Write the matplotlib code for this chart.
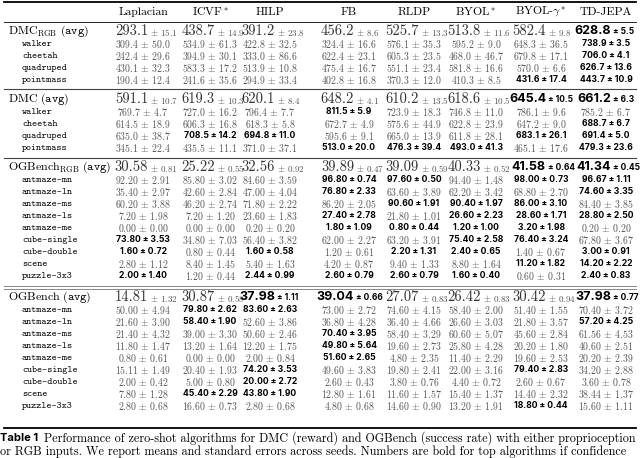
import matplotlib
matplotlib.use("Agg")
import matplotlib.pyplot as plt

plt.rcParams['mathtext.fontset'] = 'cm'
plt.rcParams['axes.unicode_minus'] = False

methods = ["Laplacian", "ICVF*", "HILP", "FB", "RLDP", "BYOL*", "BYOL-γ*", "TD-JEPA"]
method_tex = ["Laplacian", r"ICVF$^*$", "HILP", "FB", "RLDP", r"BYOL$^*$", r"BYOL-$\gamma^*$", "TD-JEPA"]

dmc_tasks = ["walker", "cheetah", "quadruped", "pointmass"]
og_tasks = ["antmaze-mn", "antmaze-ln", "antmaze-ms", "antmaze-ls", "antmaze-me",
            "cube-single", "cube-double", "scene", "puzzle-3x3"]

# ---- DMC RGB ----
dmcrgb_avg_mean = [293.1, 438.7, 391.2, 456.2, 525.7, 513.8, 582.4, 628.8]
dmcrgb_avg_err = [15.1, 14.9, 23.8, 8.6, 13.3, 11.6, 9.8, 5.5]
dmcrgb_avg_bold = [0, 0, 0, 0, 0, 0, 0, 1]
dmcrgb_mean = [[309.4, 534.9, 422.8, 324.4, 576.1, 595.2, 648.3, 738.9],
               [242.4, 394.9, 333.0, 622.4, 605.3, 468.0, 679.8, 706.0],
               [430.1, 583.3, 513.9, 475.4, 551.1, 581.8, 570.0, 626.7],
               [190.4, 241.6, 294.9, 402.8, 370.3, 410.3, 431.6, 443.7]]
dmcrgb_err = [[50.0, 61.3, 32.5, 16.6, 35.3, 9.0, 36.5, 3.5],
              [29.6, 30.1, 86.6, 23.1, 23.5, 46.7, 17.1, 4.1],
              [32.3, 17.2, 10.8, 16.7, 23.4, 16.6, 6.6, 13.6],
              [12.4, 35.6, 33.4, 16.8, 12.0, 8.5, 17.4, 10.9]]
dmcrgb_bold = [[0, 0, 0, 0, 0, 0, 0, 1],
               [0, 0, 0, 0, 0, 0, 0, 1],
               [0, 0, 0, 0, 0, 0, 0, 1],
               [0, 0, 0, 0, 0, 0, 1, 1]]

# ---- DMC ----
dmc_avg_mean = [591.1, 619.3, 620.1, 648.2, 610.2, 618.6, 645.4, 661.2]
dmc_avg_err = [10.7, 10.3, 8.4, 4.1, 13.5, 10.5, 10.5, 6.3]
dmc_avg_bold = [0, 0, 0, 0, 0, 0, 1, 1]
dmc_mean = [[769.7, 727.0, 796.4, 811.5, 723.9, 746.8, 786.1, 785.2],
            [614.5, 606.3, 618.3, 672.7, 575.6, 622.8, 647.2, 688.7],
            [635.0, 708.5, 694.8, 595.6, 665.0, 611.8, 683.1, 691.4],
            [345.1, 435.5, 371.0, 513.0, 476.3, 493.0, 465.1, 479.3]]
dmc_err = [[4.7, 16.2, 7.7, 5.9, 18.3, 11.0, 9.6, 6.7],
           [18.9, 16.8, 5.8, 4.9, 44.9, 23.9, 9.0, 6.7],
           [38.7, 14.2, 11.0, 9.1, 13.9, 28.1, 26.1, 5.0],
           [22.4, 11.1, 37.1, 20.0, 39.4, 41.3, 17.6, 23.6]]
dmc_bold = [[0, 0, 0, 1, 0, 0, 0, 0],
            [0, 0, 0, 0, 0, 0, 0, 1],
            [0, 1, 1, 0, 0, 0, 1, 1],
            [0, 0, 0, 1, 1, 1, 0, 1]]

# ---- OGBench RGB ----
ogrgb_avg_mean = [30.58, 25.22, 32.56, 39.89, 39.09, 40.33, 41.58, 41.34]
ogrgb_avg_err = [0.81, 0.55, 0.92, 0.47, 0.59, 0.52, 0.64, 0.45]
ogrgb_avg_bold = [0, 0, 0, 0, 0, 0, 1, 1]
ogrgb_mean = [[92.20, 85.80, 84.60, 96.80, 97.60, 94.40, 98.00, 96.67],
              [35.40, 42.60, 47.00, 76.80, 63.60, 62.20, 68.80, 74.60],
              [60.20, 46.20, 71.80, 86.20, 90.60, 90.40, 86.00, 84.40],
              [7.20, 7.20, 23.60, 27.40, 21.80, 26.60, 28.60, 28.80],
              [0.00, 0.00, 0.20, 1.80, 0.80, 1.20, 3.20, 0.20],
              [73.80, 34.80, 56.40, 62.00, 63.20, 75.40, 76.40, 67.80],
              [1.60, 0.80, 1.60, 1.20, 2.20, 2.40, 1.40, 3.00],
              [2.80, 8.40, 5.40, 4.20, 9.40, 8.80, 11.20, 14.20],
              [2.00, 1.20, 2.44, 2.60, 2.60, 1.60, 0.60, 2.40]]
ogrgb_err = [[2.91, 3.02, 3.59, 0.74, 0.50, 1.48, 0.73, 1.11],
             [2.97, 2.84, 4.04, 2.33, 3.89, 3.42, 2.70, 3.35],
             [3.88, 2.74, 2.22, 2.05, 1.91, 1.97, 3.10, 3.85],
             [1.98, 1.20, 1.83, 2.78, 1.01, 2.23, 1.71, 2.50],
             [0.00, 0.00, 0.20, 1.09, 0.44, 1.00, 1.98, 0.20],
             [3.53, 7.03, 3.82, 2.27, 3.91, 2.58, 3.24, 3.67],
             [0.72, 0.44, 0.58, 0.61, 1.31, 0.65, 0.67, 0.91],
             [1.12, 1.45, 1.63, 0.87, 1.33, 1.64, 1.82, 2.22],
             [1.40, 0.44, 0.99, 0.79, 0.79, 0.40, 0.31, 0.83]]
ogrgb_bold = [[0, 0, 0, 1, 1, 0, 1, 1],
              [0, 0, 0, 1, 0, 0, 0, 1],
              [0, 0, 0, 0, 1, 1, 1, 0],
              [0, 0, 0, 1, 0, 1, 1, 1],
              [0, 0, 0, 1, 1, 1, 1, 0],
              [1, 0, 0, 0, 0, 1, 1, 0],
              [1, 0, 1, 0, 1, 1, 0, 1],
              [0, 0, 0, 0, 0, 0, 1, 1],
              [1, 0, 1, 1, 1, 1, 0, 1]]

# ---- OGBench ----
og_avg_mean = [14.81, 30.87, 37.98, 39.04, 27.07, 26.42, 30.42, 37.98]
og_avg_err = [1.32, 0.58, 1.11, 0.66, 0.83, 0.83, 0.94, 0.77]
og_avg_bold = [0, 0, 1, 1, 0, 0, 0, 1]
og_mean = [[50.00, 79.80, 83.60, 73.00, 74.60, 58.40, 51.40, 70.40],
           [21.60, 58.40, 52.60, 36.80, 36.40, 26.60, 21.80, 57.20],
           [21.40, 39.00, 50.60, 70.40, 58.40, 60.60, 45.60, 61.56],
           [11.80, 13.20, 12.20, 49.80, 19.60, 25.80, 20.20, 40.60],
           [0.80, 0.00, 2.00, 51.60, 4.80, 11.40, 19.60, 20.20],
           [15.11, 20.40, 74.20, 49.60, 19.80, 22.00, 79.40, 34.20],
           [2.00, 5.00, 20.00, 2.60, 3.80, 4.40, 2.60, 3.60],
           [7.80, 45.40, 43.80, 12.80, 11.60, 15.40, 14.40, 38.44],
           [2.80, 16.60, 2.80, 4.80, 14.60, 13.20, 18.80, 15.60]]
og_err = [[4.94, 2.62, 2.63, 2.72, 4.15, 2.00, 1.55, 3.72],
          [3.90, 1.90, 3.86, 4.28, 4.66, 3.03, 3.57, 4.25],
          [4.32, 3.30, 2.46, 3.95, 3.29, 5.07, 2.84, 4.53],
          [1.47, 1.64, 1.75, 5.64, 2.73, 4.28, 1.80, 2.51],
          [0.61, 0.00, 0.84, 2.65, 2.35, 2.29, 2.53, 2.39],
          [1.49, 1.93, 3.53, 3.83, 2.41, 3.16, 2.83, 2.88],
          [0.42, 0.80, 2.72, 0.43, 0.76, 0.72, 0.67, 0.78],
          [1.28, 2.29, 1.90, 1.61, 1.57, 1.37, 2.32, 1.37],
          [0.68, 0.73, 0.68, 0.68, 0.90, 1.91, 0.44, 1.11]]
og_bold = [[0, 1, 1, 0, 0, 0, 0, 0],
           [0, 1, 0, 0, 0, 0, 0, 1],
           [0, 0, 0, 1, 0, 0, 0, 0],
           [0, 0, 0, 1, 0, 0, 0, 0],
           [0, 0, 0, 1, 0, 0, 0, 0],
           [0, 0, 1, 0, 0, 0, 1, 0],
           [0, 0, 1, 0, 0, 0, 0, 0],
           [0, 1, 1, 0, 0, 0, 0, 0],
           [0, 0, 0, 0, 0, 0, 1, 0]]

fig = plt.figure(figsize=(6.4, 4.58), dpi=100)
ax = fig.add_axes([0, 0, 1, 1])
ax.set_xlim(0, 640)
ax.set_ylim(458, 0)
ax.axis('off')

col_x = [143, 210, 270, 349, 414, 476, 541, 606]
SANS = 'Inter'
GRAY = '#555555'

for x, m in zip(col_x, method_tex):
    ax.text(x, 12, m, ha='center', va='center', fontsize=8.5, family='cmr10')

def fmt(v, d):
    return f"{v:.{d}f}"

def avg_cell(x, y, m, e, b, d):
    if b:
        ax.text(x + 5, y, fmt(m, d), ha='right', va='center', fontsize=9,
                family=SANS, weight='bold', color='black')
        ax.text(x + 7, y + 1, "± " + fmt(e, d), ha='left', va='center', fontsize=6,
                family=SANS, weight='bold', color='black')
    else:
        ax.text(x + 5, y, fmt(m, d), ha='right', va='center', fontsize=10.5,
                family='cmr10', color='#333333')
        ax.text(x + 7, y + 1, r"$\pm$ " + fmt(e, d), ha='left', va='center', fontsize=6.5,
                family='cmr10', color='#555555')

def sub_cell(x, y, m, e, b, d):
    if b:
        ax.text(x, y, fmt(m, d) + " ± " + fmt(e, d), ha='center', va='center',
                fontsize=6.2, family=SANS, weight='bold', color='black')
    else:
        ax.text(x, y, fmt(m, d) + r" $\pm$ " + fmt(e, d), ha='center', va='center',
                fontsize=7.1, family='cmr10', color=GRAY)

def group(y0, label, avg_m, avg_e, avg_b, tasks, means, errs, bolds, d, step):
    ax.text(8, y0, label, ha='left', va='center', fontsize=8.6)
    for j in range(8):
        avg_cell(col_x[j], y0, avg_m[j], avg_e[j], avg_b[j], d)
    for i, t in enumerate(tasks):
        y = y0 + 13 + i * step
        ax.text(22, y, t, ha='left', va='center', fontsize=7, family='cmtt10')
        for j in range(8):
            sub_cell(col_x[j], y, means[i][j], errs[i][j], bolds[i][j], d)

group(31, r"$\mathrm{DMC}_{\mathrm{RGB}}\ \mathtt{(avg)}$", dmcrgb_avg_mean, dmcrgb_avg_err,
      dmcrgb_avg_bold, dmc_tasks, dmcrgb_mean, dmcrgb_err, dmcrgb_bold, 1, 11.9)
group(99, r"$\mathrm{DMC}\ \mathtt{(avg)}$", dmc_avg_mean, dmc_avg_err,
      dmc_avg_bold, dmc_tasks, dmc_mean, dmc_err, dmc_bold, 1, 11.9)
group(167, r"$\mathrm{OGBench}_{\mathrm{RGB}}\ \mathtt{(avg)}$", ogrgb_avg_mean, ogrgb_avg_err,
      ogrgb_avg_bold, og_tasks, ogrgb_mean, ogrgb_err, ogrgb_bold, 2, 12.0)
group(297, r"$\mathrm{OGBench}\ \mathtt{(avg)}$", og_avg_mean, og_avg_err,
      og_avg_bold, og_tasks, og_mean, og_err, og_bold, 2, 12.0)

L, R = 4, 636
ax.plot([L, R], [2, 2], color='black', lw=1.3)
ax.plot([L, R], [22, 22], color='black', lw=0.6)
ax.plot([L, R], [89, 89], color='#444444', lw=0.8)
ax.plot([L, R], [158, 158], color='#444444', lw=0.8)
ax.plot([L, R], [286, 286], color='#888888', lw=0.7)
ax.plot([L, R], [288.5, 288.5], color='#888888', lw=0.7)
ax.plot([L, R], [428, 428], color='black', lw=1.3)

ax.text(0, 438, "Table 1", ha='left', va='center', fontsize=8, family=SANS, weight='bold')
ax.text(44, 438, "Performance of zero-shot algorithms for DMC (reward) and OGBench (success rate) with either proprioception",
        ha='left', va='center', fontsize=8.75, family='cmr10')
ax.text(0, 452, "or RGB inputs. We report means and standard errors across seeds. Numbers are bold for top algorithms if confidence",
        ha='left', va='center', fontsize=8.75, family='cmr10')

fig.savefig("out.png", dpi=100)
